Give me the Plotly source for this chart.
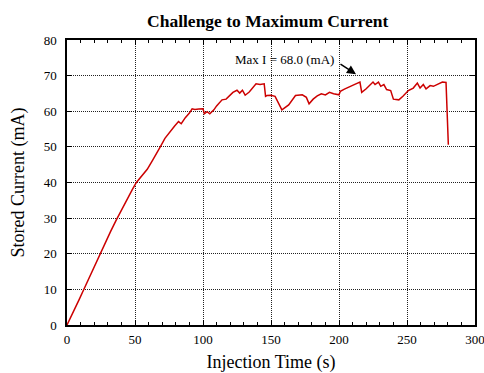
import plotly.graph_objects as go

time_s = [0, 3, 6, 9, 12, 16, 20, 24, 28, 32, 36, 40, 44, 48, 51, 55, 59, 63, 66, 69, 72, 76, 79, 82, 84, 87, 90, 92, 94, 97, 100, 101, 103, 105, 108, 110, 114, 117, 120, 122, 125, 127, 129, 131, 134, 136, 139, 142, 145, 146, 147, 150, 153, 158, 163, 168, 173, 176, 178, 181, 184, 187, 190, 193, 196, 200, 201, 204, 208, 212, 215.4, 216.7, 220, 225, 226.5, 229, 230.7, 233, 235, 238, 240, 244, 247, 251, 254.6, 257.6, 259.6, 262, 264, 267, 269.4, 272, 276, 278.7, 280.4]
current_mA = [0, 2.3, 4.9, 7.2, 9.7, 13.0, 16.4, 20.0, 23.0, 26.2, 29.3, 32.3, 35.0, 38.0, 40.0, 42.0, 43.7, 46.3, 48.5, 50.3, 52.4, 54.5, 55.8, 57.1, 56.5, 58.2, 59.5, 60.7, 60.5, 60.6, 60.7, 59.3, 59.9, 59.3, 60.4, 61.5, 63.2, 63.4, 64.4, 65.3, 65.9, 65.1, 65.9, 64.5, 65.4, 66.3, 67.7, 67.5, 67.7, 64.2, 64.4, 64.5, 64.2, 60.4, 61.8, 64.4, 64.6, 63.9, 62.1, 63.4, 64.3, 64.9, 64.6, 65.3, 64.9, 64.6, 65.6, 66.2, 67.0, 67.6, 68.2, 65.3, 66.3, 68.2, 67.5, 68.2, 67.0, 67.5, 66.1, 65.8, 63.4, 63.2, 64.2, 65.8, 66.5, 67.9, 66.5, 67.5, 66.3, 67.2, 67.0, 67.5, 68.2, 68.1, 50.6]

x_ticks = [0, 50, 100, 150, 200, 250, 300]
y_ticks = [0, 10, 20, 30, 40, 50, 60, 70, 80]

title_text = "Challenge to Maximum Current"
x_title = "Injection Time (s)"
y_title = "Stored Current (mA)"
annot_text = "Max I = 68.0 (mA)"

serif = "Liberation Serif, Times New Roman, serif"

fig = go.Figure()
fig.add_trace(go.Scatter(x=time_s, y=current_mA, mode="lines",
                         line=dict(color="#cc0000", width=1.5), showlegend=False))

axis_common = dict(
    showline=True, linecolor="black", linewidth=1.5, mirror="ticks",
    ticks="inside", ticklen=5, tickcolor="black", tickwidth=1,
    showgrid=True, gridcolor="#222222", gridwidth=1, griddash="1px,1px",
    zeroline=False, automargin=False, ticklabeloverflow="allow",
    tickfont=dict(family=serif, size=13, color="black"),
)

fig.update_xaxes(range=[0, 300], tickvals=x_ticks, ticklabelstandoff=2,
                 minor=dict(dtick=10, ticks="inside", ticklen=3, tickcolor="black", showgrid=False),
                 title=dict(text=x_title, font=dict(family=serif, size=18, color="black"), standoff=12),
                 **axis_common)
fig.update_yaxes(range=[0, 80], tickvals=y_ticks, ticklabelstandoff=6,
                 title=dict(text=y_title, font=dict(family=serif, size=18, color="black"), standoff=14),
                 **axis_common)

fig.add_annotation(x=212.5, y=70.4, ax=-17, ay=-11, text="", showarrow=True,
                   arrowhead=2, arrowsize=1.2, arrowwidth=1.5, arrowcolor="black")
fig.add_annotation(x=160, y=74.6, text=annot_text, showarrow=False,
                   font=dict(family=serif, size=13, color="black"))

fig.update_layout(
    width=484, height=373,
    margin=dict(l=67, r=9, t=40, b=48),
    paper_bgcolor="white", plot_bgcolor="white",
    title=dict(text="<b>" + title_text + "</b>", xref="container", x=0.553, xanchor="center",
               y=0.945, yanchor="middle",
               font=dict(family=serif, size=17.5, color="black")),
)

fig.write_html("out.html", config={"displayModeBar": False},
               post_script="document.body.style.margin='0';")
